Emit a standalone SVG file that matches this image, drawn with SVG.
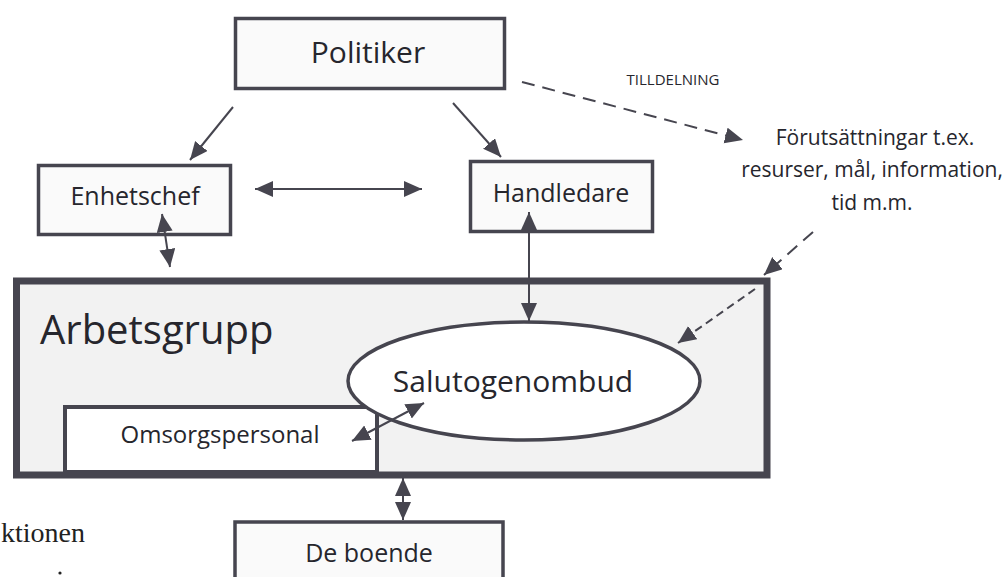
<svg xmlns="http://www.w3.org/2000/svg" width="1004" height="577" viewBox="0 0 1004 577">
<style>
.box{fill:#fafafa;stroke:#46454f;stroke-width:3.5}
.lbl{font-family:"Open Sans","Liberation Sans",sans-serif;fill:#26262d;text-anchor:middle}
.ln{stroke:#46454f;stroke-width:2;fill:none}
.dash{stroke:#46454f;stroke-width:2;fill:none;stroke-dasharray:13 8}
.dash2{stroke:#46454f;stroke-width:2;fill:none;stroke-dasharray:8 5}
</style>
<defs>
<marker id="ah" markerUnits="userSpaceOnUse" markerWidth="20" markerHeight="18" refX="18" refY="8" orient="auto-start-reverse">
<path d="M0,0 L18,8 L0,16 z" fill="#46454f"/>
</marker>
</defs>
<rect width="1004" height="577" fill="#ffffff"/>

<g id="arbetsgrupp">
<rect x="16.5" y="281" width="750.5" height="194" fill="#f2f2f2" stroke="#46454f" stroke-width="7"/>
<text class="lbl" x="40" y="344" font-size="40" style="text-anchor:start">Arbetsgrupp</text>
</g>

<g id="omsorgspersonal">
<rect x="65" y="407" width="312" height="65" fill="#ffffff" stroke="#46454f" stroke-width="4"/>
<text class="lbl" x="220" y="443" font-size="24">Omsorgspersonal</text>
</g>

<g id="salutogenombud">
<ellipse cx="524" cy="381" rx="176" ry="59" fill="#ffffff" stroke="#46454f" stroke-width="3.5"/>
<text class="lbl" x="513" y="392" font-size="30">Salutogenombud</text>
</g>

<g id="politiker">
<rect class="box" x="235.5" y="18.5" width="269" height="70"/>
<text class="lbl" x="368" y="63" font-size="30">Politiker</text>
</g>

<g id="enhetschef">
<rect class="box" x="38.5" y="165.5" width="192" height="69"/>
<text class="lbl" x="135" y="205" font-size="25">Enhetschef</text>
</g>

<g id="handledare">
<rect class="box" x="470.5" y="161.5" width="182" height="70"/>
<text class="lbl" x="561" y="202" font-size="25">Handledare</text>
</g>

<g id="de-boende">
<rect class="box" x="235" y="522" width="268" height="70"/>
<text class="lbl" x="369" y="562" font-size="25">De boende</text>
</g>

<g id="forutsattningar">
<text class="lbl" font-size="21"><tspan x="875" y="145">Förutsättningar t.ex.</tspan><tspan x="872" y="177">resurser, mål, information,</tspan><tspan x="872" y="210">tid m.m.</tspan></text>
</g>

<g id="tilldelning-label">
<text class="lbl" x="673" y="85" font-size="15">TILLDELNING</text>
</g>

<g id="fragment">
<text x="1" y="542" font-family="'Liberation Serif',serif" font-size="28" fill="#222222">ktionen</text>
<circle cx="60" cy="573" r="1.6" fill="#222222"/>
</g>

<g id="connectors">
<line class="ln" x1="233" y1="107" x2="190" y2="160" marker-end="url(#ah)"/>
<line class="ln" x1="453" y1="103" x2="501" y2="157" marker-end="url(#ah)"/>
<line class="ln" x1="255" y1="189" x2="422" y2="189" marker-start="url(#ah)" marker-end="url(#ah)"/>
<line class="ln" x1="162" y1="214" x2="170" y2="267" marker-start="url(#ah)" marker-end="url(#ah)"/>
<line class="ln" x1="529" y1="212" x2="529" y2="321" marker-start="url(#ah)" marker-end="url(#ah)"/>
<line class="ln" x1="352" y1="441" x2="424" y2="403" marker-start="url(#ah)" marker-end="url(#ah)"/>
<line class="ln" x1="403" y1="478" x2="403" y2="520" marker-start="url(#ah)" marker-end="url(#ah)"/>
<line class="dash" x1="522" y1="82" x2="743" y2="140" marker-end="url(#ah)"/>
<line class="dash" x1="813" y1="232" x2="764" y2="275" marker-end="url(#ah)"/>
<line class="dash2" x1="755" y1="289" x2="678" y2="343" marker-end="url(#ah)"/>
</g>
</svg>
